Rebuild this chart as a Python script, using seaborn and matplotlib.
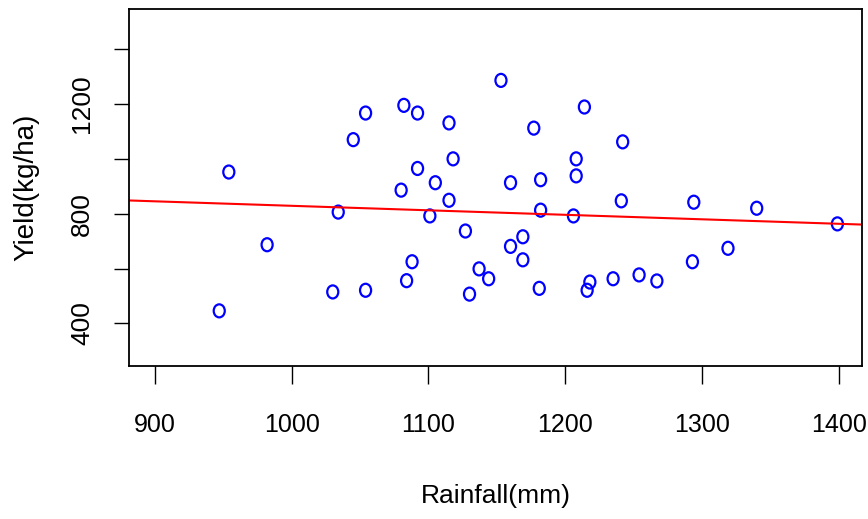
import numpy as np
import pandas as pd
import matplotlib
matplotlib.use("Agg")
import matplotlib.pyplot as plt
import seaborn as sns
from matplotlib.path import Path
from matplotlib.transforms import Affine2D

# Rainfall (mm) and yield (kg/ha)
rainfall = [1054, 1045, 954, 1153, 1082, 1092, 1115, 1177, 1214, 1242,
            1118, 1092, 1208, 1208, 1182, 1160, 1105, 1080, 1034, 982,
            947, 1030, 1054, 1115, 1101, 1127, 1182, 1206, 1241, 1160,
            1169, 1169, 1088, 1084, 1137, 1144, 1130, 1181, 1218, 1216,
            1235, 1294, 1340, 1399, 1319, 1293, 1254, 1267]
yield_kg = [1167, 1070, 952, 1286, 1195, 1167, 1131, 1112, 1189, 1062,
            1000, 965, 1000, 938, 924, 913, 913, 886, 806, 687,
            446, 515, 521, 849, 792, 737, 813, 792, 847, 681,
            716, 632, 625, 556, 599, 563, 507, 528, 551, 521,
            563, 842, 820, 763, 674, 625, 577, 555]

x_ticks = [900, 1000, 1100, 1200, 1300, 1400]
y_ticks = [400, 600, 800, 1000, 1200, 1400]
y_tick_labels = ["400", "", "800", "", "1200", ""]

df = pd.DataFrame({"Rainfall": rainfall, "Yield": yield_kg})

sns.set_style("ticks")
plt.rcParams["font.family"] = ["Liberation Sans", "DejaVu Sans"]
plt.rcParams["text.color"] = "black"
plt.rcParams["axes.labelcolor"] = "black"
plt.rcParams["xtick.color"] = "black"
plt.rcParams["ytick.color"] = "black"

fig = plt.figure(figsize=(8.68, 5.19), dpi=100)
ax = fig.add_axes([0.1486, 0.2948, 0.8445, 0.6888])

# open "o" shaped marker, a bit taller than wide
oval = Path.unit_circle().transformed(Affine2D().scale(0.85, 1.0))

ax.set_xlim(881, 1417)
ax.set_ylim(245, 1548)

sns.scatterplot(data=df, x="Rainfall", y="Yield", ax=ax, marker=oval, s=88,
                facecolors="none", edgecolor="#0000ff", linewidth=1.6)
sns.regplot(data=df, x="Rainfall", y="Yield", ax=ax, scatter=False, ci=None,
            truncate=False, color="#ff0000", line_kws={"linewidth": 1.5})

ax.set_xlim(881, 1417)
ax.set_ylim(245, 1548)

ax.set_xticks(x_ticks)
ax.set_xticklabels([str(v) for v in x_ticks], fontsize=18)
ax.set_yticks(y_ticks)
ax.set_yticklabels(y_tick_labels, rotation=90, va="center", fontsize=19)
ax.tick_params(axis="x", length=13, width=1.0, pad=21)
ax.tick_params(axis="y", length=11, width=1.0, pad=14)

ax.set_xlabel("Rainfall(mm)", fontsize=19, labelpad=34)
ax.set_ylabel("Yield(kg/ha)", fontsize=20, labelpad=22)

for sp in ax.spines.values():
    sp.set_visible(True)
    sp.set_color("black")
    sp.set_linewidth(1.3)

fig.savefig("out.png", dpi=100)
